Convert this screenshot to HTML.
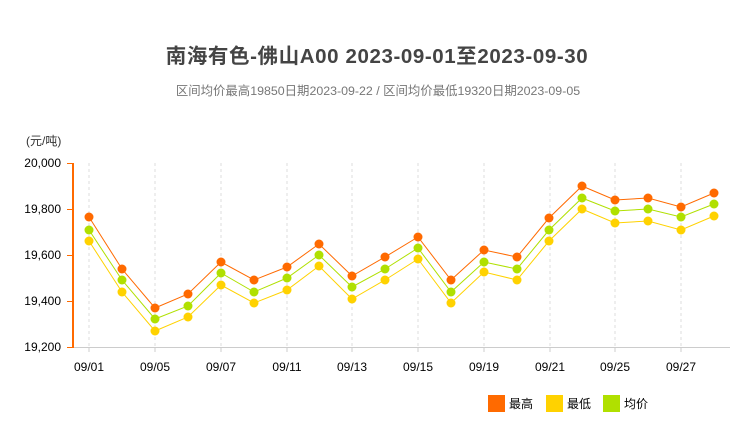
<!DOCTYPE html>
<html><head><meta charset="utf-8"><style>
body{margin:0;background:#fff;width:738px;height:418px;overflow:hidden;font-family:"Liberation Sans","Noto Sans CJK SC",sans-serif}
</style></head><body>
<svg width="738" height="418" xmlns="http://www.w3.org/2000/svg" font-family="Liberation Sans, Noto Sans CJK SC, sans-serif">
<text x="377" y="63" text-anchor="middle" font-size="20.5" font-weight="bold" fill="#444" letter-spacing="0.6">南海有色-佛山A00 2023-09-01至2023-09-30</text>
<text x="378" y="95" text-anchor="middle" font-size="12.4" fill="#777">区间均价最高19850日期2023-09-22 / 区间均价最低19320日期2023-09-05</text>
<text x="26" y="145" font-size="12" fill="#333">(元/吨)</text>
<g stroke="#ddd" stroke-dasharray="3,3">
<line x1="89" y1="163" x2="89" y2="347"/><line x1="155" y1="163" x2="155" y2="347"/><line x1="221" y1="163" x2="221" y2="347"/><line x1="287" y1="163" x2="287" y2="347"/><line x1="352" y1="163" x2="352" y2="347"/><line x1="418" y1="163" x2="418" y2="347"/><line x1="484" y1="163" x2="484" y2="347"/><line x1="550" y1="163" x2="550" y2="347"/><line x1="615" y1="163" x2="615" y2="347"/><line x1="681" y1="163" x2="681" y2="347"/>
</g>
<line x1="73" y1="347.5" x2="730" y2="347.5" stroke="#ccc"/>
<g stroke="#ccc"><line x1="89" y1="347" x2="89" y2="352"/><line x1="155" y1="347" x2="155" y2="352"/><line x1="221" y1="347" x2="221" y2="352"/><line x1="287" y1="347" x2="287" y2="352"/><line x1="352" y1="347" x2="352" y2="352"/><line x1="418" y1="347" x2="418" y2="352"/><line x1="484" y1="347" x2="484" y2="352"/><line x1="550" y1="347" x2="550" y2="352"/><line x1="615" y1="347" x2="615" y2="352"/><line x1="681" y1="347" x2="681" y2="352"/></g>
<line x1="73" y1="163" x2="73" y2="348" stroke="#ff6a00" stroke-width="2"/>
<g stroke="#ff6a00"><line x1="67" y1="163.5" x2="73" y2="163.5"/><line x1="67" y1="209.5" x2="73" y2="209.5"/><line x1="67" y1="255.5" x2="73" y2="255.5"/><line x1="67" y1="301.5" x2="73" y2="301.5"/><line x1="67" y1="347.5" x2="73" y2="347.5"/></g>
<g font-size="12" fill="#000" text-anchor="end">
<text x="61" y="167">20,000</text><text x="61" y="213">19,800</text><text x="61" y="259">19,600</text><text x="61" y="305">19,400</text><text x="61" y="351">19,200</text>
</g>
<g font-size="12" fill="#000" text-anchor="middle">
<text x="89" y="371">09/01</text><text x="155" y="371">09/05</text><text x="221" y="371">09/07</text><text x="287" y="371">09/11</text><text x="352" y="371">09/13</text><text x="418" y="371">09/15</text><text x="484" y="371">09/19</text><text x="550" y="371">09/21</text><text x="615" y="371">09/25</text><text x="681" y="371">09/27</text>
</g>
<polyline fill="none" stroke="#ff6a00" points="89,217 122,269 155,308 188,294 221,262 254,280 287,267 319,244 352,276 385,257 418,237 451,280 484,250 517,257 549,218 582,186 615,200 648,198 681,207 714,193"/>
<polyline fill="none" stroke="#ffd200" points="89,241 122,292 155,331 188,317 221,285 254,303 287,290 319,266 352,299 385,280 418,259 451,303 484,272 517,280 549,241 582,209 615,223 648,221 681,230 714,216"/>
<polyline fill="none" stroke="#b0e000" points="89,230 122,280 155,319 188,306 221,273 254,292 287,278 319,255 352,287 385,269 418,248 451,292 484,262 517,269 549,230 582,198 615,211 648,209 681,217 714,204"/>
<g fill="#ff6a00">
<circle cx="89" cy="217" r="4.5"/><circle cx="122" cy="269" r="4.5"/><circle cx="155" cy="308" r="4.5"/><circle cx="188" cy="294" r="4.5"/><circle cx="221" cy="262" r="4.5"/><circle cx="254" cy="280" r="4.5"/><circle cx="287" cy="267" r="4.5"/><circle cx="319" cy="244" r="4.5"/><circle cx="352" cy="276" r="4.5"/><circle cx="385" cy="257" r="4.5"/><circle cx="418" cy="237" r="4.5"/><circle cx="451" cy="280" r="4.5"/><circle cx="484" cy="250" r="4.5"/><circle cx="517" cy="257" r="4.5"/><circle cx="549" cy="218" r="4.5"/><circle cx="582" cy="186" r="4.5"/><circle cx="615" cy="200" r="4.5"/><circle cx="648" cy="198" r="4.5"/><circle cx="681" cy="207" r="4.5"/><circle cx="714" cy="193" r="4.5"/>
</g>
<g fill="#ffd200">
<circle cx="89" cy="241" r="4.5"/><circle cx="122" cy="292" r="4.5"/><circle cx="155" cy="331" r="4.5"/><circle cx="188" cy="317" r="4.5"/><circle cx="221" cy="285" r="4.5"/><circle cx="254" cy="303" r="4.5"/><circle cx="287" cy="290" r="4.5"/><circle cx="319" cy="266" r="4.5"/><circle cx="352" cy="299" r="4.5"/><circle cx="385" cy="280" r="4.5"/><circle cx="418" cy="259" r="4.5"/><circle cx="451" cy="303" r="4.5"/><circle cx="484" cy="272" r="4.5"/><circle cx="517" cy="280" r="4.5"/><circle cx="549" cy="241" r="4.5"/><circle cx="582" cy="209" r="4.5"/><circle cx="615" cy="223" r="4.5"/><circle cx="648" cy="221" r="4.5"/><circle cx="681" cy="230" r="4.5"/><circle cx="714" cy="216" r="4.5"/>
</g>
<g fill="#b0e000">
<circle cx="89" cy="230" r="4.5"/><circle cx="122" cy="280" r="4.5"/><circle cx="155" cy="319" r="4.5"/><circle cx="188" cy="306" r="4.5"/><circle cx="221" cy="273" r="4.5"/><circle cx="254" cy="292" r="4.5"/><circle cx="287" cy="278" r="4.5"/><circle cx="319" cy="255" r="4.5"/><circle cx="352" cy="287" r="4.5"/><circle cx="385" cy="269" r="4.5"/><circle cx="418" cy="248" r="4.5"/><circle cx="451" cy="292" r="4.5"/><circle cx="484" cy="262" r="4.5"/><circle cx="517" cy="269" r="4.5"/><circle cx="549" cy="230" r="4.5"/><circle cx="582" cy="198" r="4.5"/><circle cx="615" cy="211" r="4.5"/><circle cx="648" cy="209" r="4.5"/><circle cx="681" cy="217" r="4.5"/><circle cx="714" cy="204" r="4.5"/>
</g>
<rect x="488" y="395" width="17" height="17" fill="#ff6a00"/>
<rect x="546" y="395" width="17" height="17" fill="#ffd200"/>
<rect x="603" y="395" width="17" height="17" fill="#b0e000"/>
<g font-size="12" fill="#000"><text x="509" y="408">最高</text><text x="567" y="408">最低</text><text x="624" y="408">均价</text></g>
</svg>
</body></html>
